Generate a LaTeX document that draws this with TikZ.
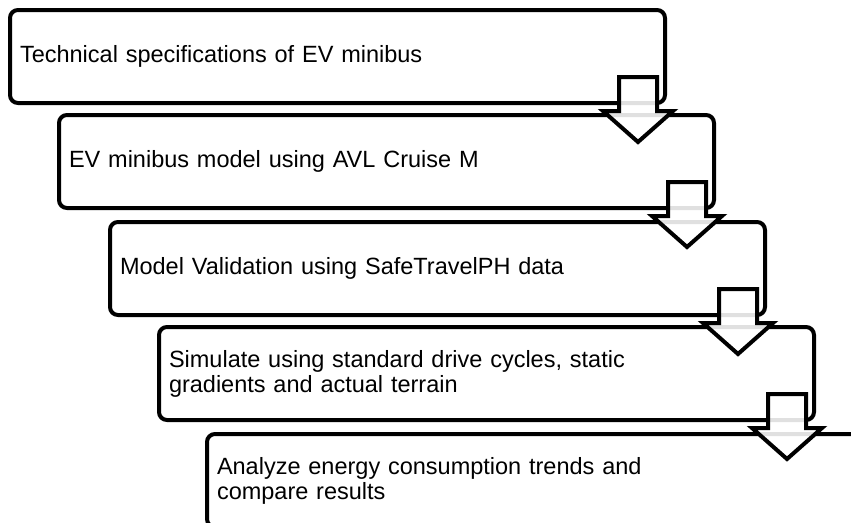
\documentclass[tikz,border=0pt]{standalone}
\usepackage{fontspec}
\setmainfont{Liberation Sans}
\usetikzlibrary{calc}
\tikzset{
  stepbox/.style={draw=black, line width=4pt, rounded corners=8pt, anchor=north west,
    minimum width=655pt, minimum height=93pt, text width=635pt,
    inner xsep=10pt, inner ysep=0pt, align=left,
    font=\fontsize{23.5}{25}\selectfont},
  flowarrow/.style={draw=black, line width=4pt, fill=white, fill opacity=0.88, line join=miter}
}
\newcommand{\downarrowshape}[1]{%
  \draw[flowarrow] (#1) ++(-19,-28) -- ++(38,0) -- ++(0,34) -- ++(16,0) -- ++(-35,31) -- ++(-35,-31) -- ++(16,0) -- cycle;}
\begin{document}
\begin{tikzpicture}[x=1pt,y=-1pt]
\useasboundingbox (0,0) rectangle (851,522);
\clip (0,0) rectangle (851,522);
\fill[white] (0,0) rectangle (851,522);
\node[stepbox] (b1) at (8,8) {Technical specifications of EV minibus};
\node[stepbox] (b2) at (57,113) {EV minibus model using AVL Cruise M};
\node[stepbox] (b3) at (108,220) {Model Validation using SafeTravelPH data};
\node[stepbox] (b4) at (157,325) {Simulate using standard drive cycles, static\\gradients and actual terrain};
\node[stepbox] (b5) at (205,432) {Analyze energy consumption trends and\\compare results};
\coordinate (a1) at ($(b1.south east)+(-29,0)$);
\coordinate (a2) at ($(b2.south east)+(-29,0)$);
\coordinate (a3) at ($(b3.south east)+(-29,0)$);
\coordinate (a4) at ($(b4.south east)+(-29,0)$);
\downarrowshape{a1}
\downarrowshape{a2}
\downarrowshape{a3}
\downarrowshape{a4}
\end{tikzpicture}
\end{document}
